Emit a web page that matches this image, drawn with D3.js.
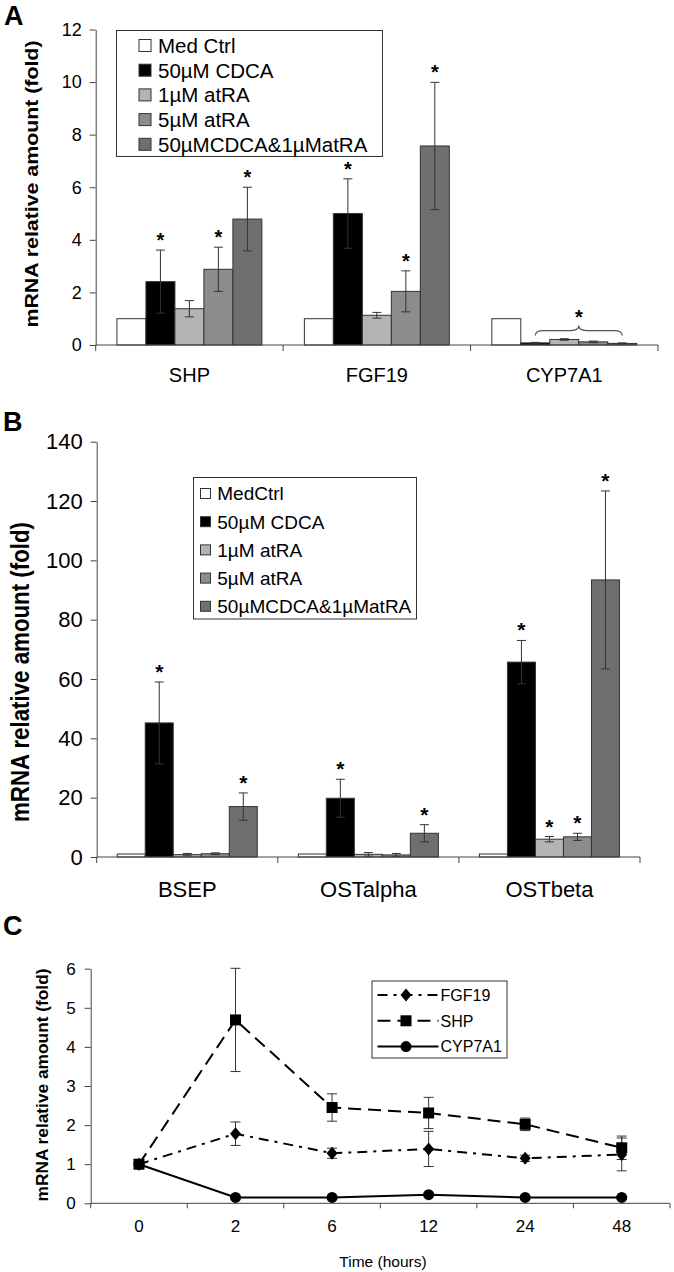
<!DOCTYPE html>
<html><head><meta charset="utf-8">
<script src="https://cdn.jsdelivr.net/npm/d3@7"></script>
<style>
body{margin:0;background:#fff}
svg{display:block}
text{font-family:"Liberation Sans",Arial,Helvetica,sans-serif;fill:#000}
</style>
</head><body>
<svg id="c" width="674" height="1272"></svg>
<script>
// ---------- DATA ----------
const seriesA = ["Med Ctrl", "50\u00b5M CDCA", "1\u00b5M atRA", "5\u00b5M atRA", "50\u00b5MCDCA&1\u00b5MatRA"];
const seriesB = ["MedCtrl", "50\u00b5M CDCA", "1\u00b5M atRA", "5\u00b5M atRA", "50\u00b5MCDCA&1\u00b5MatRA"];
const seriesColors = ["#ffffff", "#000000", "#b4b4b4", "#8c8c8c", "#6f6f6f"];

const catsA = ["SHP", "FGF19", "CYP7A1"];
const valsA = [[1, 2.41, 1.38, 2.88, 4.79], [1, 5.0, 1.13, 2.04, 7.57], [1, 0.08, 0.21, 0.12, 0.06]];
const errA  = [[0, 1.2, 0.31, 0.84, 1.21], [0, 1.32, 0.11, 0.78, 2.42], [0, 0.02, 0.03, 0.03, 0.02]];
const starA = [[0, 1, 0, 1, 1], [0, 1, 0, 1, 1], [0, 0, 0, 0, 0]];
const ticksA = [0, 2, 4, 6, 8, 10, 12];

const catsB = ["BSEP", "OSTalpha", "OSTbeta"];
const valsB = [[1, 45.2, 0.8, 1.1, 17.0], [1, 19.8, 0.9, 0.7, 8.0], [1, 65.7, 6.0, 6.8, 93.4]];
const errB  = [[0, 13.8, 0.4, 0.3, 4.6], [0, 6.4, 0.6, 0.5, 2.9], [0, 7.3, 0.9, 1.2, 30.0]];
const starB = [[0, 1, 0, 0, 1], [0, 1, 0, 0, 1], [0, 1, 1, 1, 1]];
const ticksB = [0, 20, 40, 60, 80, 100, 120, 140];

const timeLabels = ["0", "2", "6", "12", "24", "48"];
const fgf19 = [1, 1.78, 1.28, 1.39, 1.15, 1.25];
const fgf19Err = [0, 0.3, 0.13, 0.45, 0.08, 0.42];
const shp = [1, 4.69, 2.45, 2.31, 2.02, 1.42];
const shpErr = [0, 1.32, 0.35, 0.4, 0.16, 0.3];
const cyp7a1 = [1, 0.15, 0.15, 0.22, 0.15, 0.15];
const cyp7a1Err = [0, 0.02, 0.02, 0.04, 0.02, 0.02];
const ticksC = [0, 1, 2, 3, 4, 5, 6];
const lineNames = ["FGF19", "SHP", "CYP7A1"];

const yTitle = "mRNA relative amount (fold)";

// ---------- DRAW ----------
const svg = d3.select("#c");
svg.append("rect").attr("width", 674).attr("height", 1272).attr("fill", "#fff");
const AX = "#444";

function panelLetter(t, x, y) {
  svg.append("text").attr("x", x).attr("y", y).attr("font-size", 27).attr("font-weight", "bold").text(t);
}

function yTitleText(x, yc, fs, len) {
  svg.append("text")
    .attr("transform", `translate(${x},${yc}) rotate(-90)`)
    .attr("text-anchor", "middle")
    .attr("font-size", fs).attr("font-weight", "bold")
    .attr("textLength", len).attr("lengthAdjust", "spacingAndGlyphs")
    .text(yTitle);
}

function barPanel(o) {
  const g = svg.append("g");
  const x = d3.scaleBand().domain(o.cats).range([o.x0, o.x1]);
  const xs = d3.scaleBand().domain(d3.range(o.series.length)).range([0, x.bandwidth()]).paddingOuter(0.733);
  const y = d3.scaleLinear().domain([0, o.ymax]).range([o.yb, o.yt]);

  // y axis
  const ya = g.append("g").attr("transform", `translate(${o.x0},0)`)
    .call(d3.axisLeft(y).tickValues(o.ticks).tickFormat(d3.format("d")).tickSize(6).tickSizeOuter(0).tickPadding(8));
  ya.select(".domain").attr("stroke", AX);
  ya.selectAll(".tick line").attr("stroke", AX);
  ya.selectAll(".tick text").attr("font-size", o.tickFs).attr("font-family", null).attr("fill", "#000");

  // bars
  o.cats.forEach((c, ci) => {
    o.vals[ci].forEach((v, si) => {
      g.append("rect")
        .attr("x", x(c) + xs(si)).attr("width", xs.bandwidth())
        .attr("y", y(v)).attr("height", y(0) - y(v))
        .attr("fill", seriesColors[si]).attr("stroke", "#333").attr("stroke-width", 1);
    });
  });
  // error bars + stars
  o.cats.forEach((c, ci) => {
    o.vals[ci].forEach((v, si) => {
      const e = o.errs[ci][si];
      const cx = x(c) + xs(si) + xs.bandwidth() / 2;
      if (e > 0) {
        const y1 = y(v + e), y2 = y(Math.max(0, v - e));
        g.append("line").attr("x1", cx).attr("x2", cx).attr("y1", y1).attr("y2", y2).attr("stroke", "#333").attr("stroke-width", 1);
        [y1, y2].forEach(yy => g.append("line").attr("x1", cx - 4.5).attr("x2", cx + 4.5).attr("y1", yy).attr("y2", yy).attr("stroke", "#333").attr("stroke-width", 1));
      }
      if (o.stars[ci][si]) {
        g.append("text").attr("x", cx).attr("y", y(v + e) - 3).attr("text-anchor", "middle")
          .attr("font-size", o.starFs).attr("font-weight", "bold").text("*");
      }
    });
  });

  // x axis
  g.append("line").attr("x1", o.x0).attr("x2", o.x1).attr("y1", o.yb).attr("y2", o.yb).attr("stroke", AX);
  const bounds = o.cats.map(c => x(c)).concat([o.x1]);
  bounds.forEach(bx => g.append("line").attr("x1", bx).attr("x2", bx).attr("y1", o.yb).attr("y2", o.yb + 6).attr("stroke", AX));
  o.cats.forEach(c => {
    g.append("text").attr("x", x(c) + x.bandwidth() / 2).attr("y", o.catY).attr("text-anchor", "middle")
      .attr("font-size", o.catFs).text(c);
  });

  // legend
  const L = o.leg;
  g.append("rect").attr("x", L.x).attr("y", L.y).attr("width", L.w).attr("height", L.h)
    .attr("fill", "#fff").attr("stroke", "#333").attr("stroke-width", 1);
  o.series.forEach((s, i) => {
    const cy = L.r0 + i * L.step;
    g.append("rect").attr("x", L.sx).attr("y", cy - L.ss / 2).attr("width", L.ss).attr("height", L.ss)
      .attr("fill", seriesColors[i]).attr("stroke", "#333").attr("stroke-width", 1);
    g.append("text").attr("x", L.tx).attr("y", cy).attr("dy", "0.36em").attr("font-size", L.fs).text(s);
  });
  return {x, xs, y, g};
}

// ---------- Panel A ----------
panelLetter("A", 4, 25);
yTitleText(38, 184, 19, 287);
const A = barPanel({
  cats: catsA, series: seriesA, vals: valsA, errs: errA, stars: starA, ticks: ticksA,
  x0: 95.7, x1: 658, yb: 345, yt: 29.5, ymax: 12, tickFs: 18, catFs: 20, catY: 382, starFs: 20,
  leg: {x: 116.5, y: 30.5, w: 266, h: 126, sx: 139, ss: 12, tx: 158, r0: 45.5, step: 24.7, fs: 20.5}
});
// brace over CYP7A1 treated bars
{
  const c = catsA[2];
  const xa = A.x(c) + A.xs(1) + A.xs.bandwidth() / 2;
  const xb = A.x(c) + A.xs(4) + A.xs.bandwidth() / 2;
  const xm = (xa + xb) / 2;
  const yb = A.y(0.55);
  const p = `M${xa},${yb + 5} Q${xa},${yb} ${xa + 8},${yb} L${xm - 8},${yb} Q${xm},${yb} ${xm},${yb - 5} Q${xm},${yb} ${xm + 8},${yb} L${xb - 8},${yb} Q${xb},${yb} ${xb},${yb + 5}`;
  A.g.append("path").attr("d", p).attr("fill", "none").attr("stroke", "#555").attr("stroke-width", 1.2);
  A.g.append("text").attr("x", xm).attr("y", yb - 7).attr("text-anchor", "middle").attr("font-size", 20).attr("font-weight", "bold").text("*");
}

// ---------- Panel B ----------
panelLetter("B", 3, 431);
yTitleText(29, 672, 26, 300);
barPanel({
  cats: catsB, series: seriesB, vals: valsB, errs: errB, stars: starB, ticks: ticksB,
  x0: 96.7, x1: 640, yb: 857, yt: 441.7, ymax: 140, tickFs: 22, catFs: 22, catY: 897, starFs: 21,
  leg: {x: 193.5, y: 477.5, w: 223, h: 141.5, sx: 200.5, ss: 10, tx: 217.3, r0: 493.5, step: 28.2, fs: 19}
});

// ---------- Panel C ----------
panelLetter("C", 3, 935);
yTitleText(48, 1085, 17, 233);
{
  const g = svg.append("g");
  const x0 = 90.7, x1 = 670, yb = 1203.3, yt = 968.7;
  const xb = d3.scaleBand().domain(timeLabels).range([x0, x1]);
  const xp = d3.scalePoint().domain(timeLabels).range([x0, x1]).padding(0.5);
  const y = d3.scaleLinear().domain([0, 6]).range([yb, yt]);

  const ya = g.append("g").attr("transform", `translate(${x0},0)`)
    .call(d3.axisLeft(y).tickValues(ticksC).tickFormat(d3.format("d")).tickSize(6).tickSizeOuter(0).tickPadding(9));
  ya.select(".domain").attr("stroke", AX);
  ya.selectAll(".tick line").attr("stroke", AX);
  ya.selectAll(".tick text").attr("font-size", 17).attr("font-family", null).attr("fill", "#000");

  g.append("line").attr("x1", x0).attr("x2", x1).attr("y1", yb).attr("y2", yb).attr("stroke", AX);
  timeLabels.map(t => xb(t)).concat([x1]).forEach(bx =>
    g.append("line").attr("x1", bx).attr("x2", bx).attr("y1", yb).attr("y2", yb + 5).attr("stroke", AX));
  timeLabels.forEach(t => g.append("text").attr("x", xp(t)).attr("y", 1232).attr("text-anchor", "middle").attr("font-size", 17).text(t));
  g.append("text").attr("x", 383).attr("y", 1267).attr("text-anchor", "middle").attr("font-size", 15.5).text("Time (hours)");

  const sets = [
    {name: lineNames[0], v: fgf19, e: fgf19Err, dash: "10,6,3,6", mk: "diamond"},
    {name: lineNames[1], v: shp, e: shpErr, dash: "13,7", mk: "square"},
    {name: lineNames[2], v: cyp7a1, e: cyp7a1Err, dash: null, mk: "circle"}
  ];
  function marker(sel, mk, cx, cy) {
    if (mk === "diamond") sel.append("path").attr("d", `M${cx},${cy - 6.5}L${cx + 5.5},${cy}L${cx},${cy + 6.5}L${cx - 5.5},${cy}Z`).attr("fill", "#000");
    else if (mk === "square") sel.append("rect").attr("x", cx - 5.5).attr("y", cy - 5.5).attr("width", 11).attr("height", 11).attr("fill", "#000");
    else sel.append("circle").attr("cx", cx).attr("cy", cy).attr("r", 5.5).attr("fill", "#000");
  }
  // error bars
  sets.forEach(s => s.v.forEach((v, i) => {
    const e = s.e[i]; if (!(e > 0)) return;
    const cx = xp(timeLabels[i]), y1 = y(v + e), y2 = y(v - e);
    g.append("line").attr("x1", cx).attr("x2", cx).attr("y1", y1).attr("y2", y2).attr("stroke", "#333").attr("stroke-width", 1);
    [y1, y2].forEach(yy => g.append("line").attr("x1", cx - 5).attr("x2", cx + 5).attr("y1", yy).attr("y2", yy).attr("stroke", "#333").attr("stroke-width", 1));
  }));
  const line = d3.line().x((d, i) => xp(timeLabels[i])).y(d => y(d));
  sets.slice().reverse().forEach(s => {
    const p = g.append("path").attr("d", line(s.v)).attr("fill", "none").attr("stroke", "#000").attr("stroke-width", 2);
    if (s.dash) p.attr("stroke-dasharray", s.dash);
  });
  sets.slice().reverse().forEach(s => s.v.forEach((v, i) => marker(g, s.mk, xp(timeLabels[i]), y(v))));

  // legend
  g.append("rect").attr("x", 372).attr("y", 981).attr("width", 135).attr("height", 77).attr("fill", "#fff").attr("stroke", "#333");
  sets.forEach((s, i) => {
    const cy = 995 + i * 25.8;
    const l = g.append("line").attr("x1", 377.5).attr("x2", 438.5).attr("y1", cy).attr("y2", cy).attr("stroke", "#000").attr("stroke-width", 2);
    if (s.dash) l.attr("stroke-dasharray", s.dash);
    marker(g, s.mk, 406, cy);
    g.append("text").attr("x", 440.5).attr("y", cy).attr("dy", "0.36em").attr("font-size", 16).text(s.name);
  });
}
</script>
</body></html>
